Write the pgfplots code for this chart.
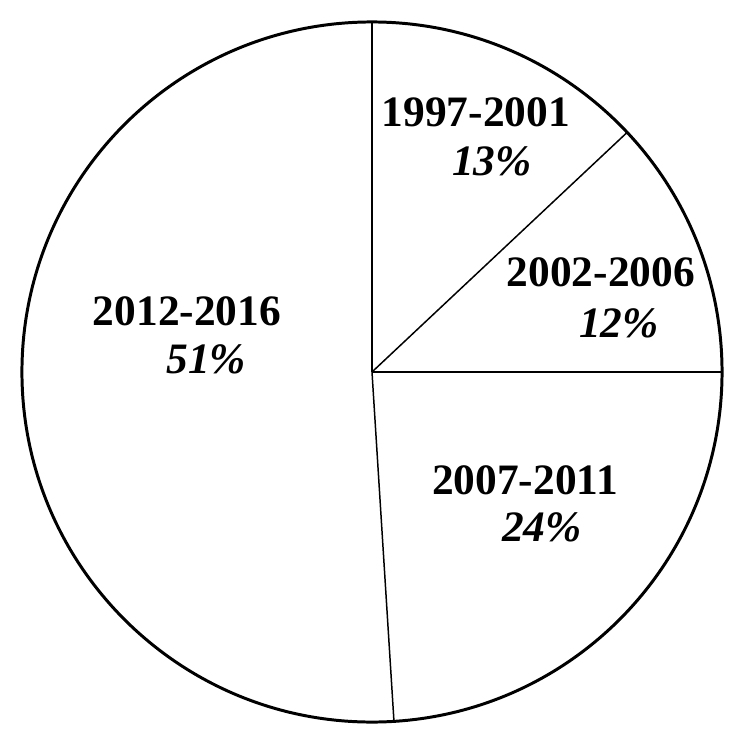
\documentclass[border=0pt]{standalone}
\usepackage{fontspec}
\setmainfont{Liberation Serif}
\usepackage{pgfplots}
\usepgfplotslibrary{polar}
\pgfplotsset{compat=1.18}

\begin{document}
\begin{tikzpicture}
\useasboundingbox[fill=white] (-150pt,-150pt) rectangle (150pt,150pt);
\begin{polaraxis}[
  at={(0,0)}, anchor=center,
  width=282.3pt, height=282.3pt,
  scale only axis,
  ymin=0, ymax=1,
  xtick=\empty, ytick=\empty,
  grid=none,
  separate axis lines,
  x axis line style={line width=1.2pt, black},
  y axis line style={draw=none},
  clip=false,
]
% slice boundaries (angle in degrees, clockwise from the top)
\addplot[black, line width=0.6pt, no marks] coordinates {(90,0) (90,1)};
\addplot[black, line width=0.6pt, no marks] coordinates {(43.2,0) (43.2,1)};
\addplot[black, line width=0.6pt, no marks] coordinates {(0,0) (0,1)};
\addplot[black, line width=0.6pt, no marks] coordinates {(-86.4,0) (-86.4,1)};
\end{polaraxis}
\begin{scope}[x=1pt, y=1pt, every node/.style={inner sep=0pt, font=\fontsize{17.5pt}{21pt}\selectfont}]
\node at (41.9,104.8) {\textbf{1997-2001}};
\node at (48.4,85.1) {\textbf{\textit{13\%}}};
\node at (92.3,40.3) {\textbf{2002-2006}};
\node at (99.6,19.8) {\textbf{\textit{12\%}}};
\node at (61.7,-43.5) {\textbf{2007-2011}};
\node at (68.5,-62.5) {\textbf{\textit{24\%}}};
\node at (-74.6,24.6) {\textbf{2012-2016}};
\node at (-66.9,5.2) {\textbf{\textit{51\%}}};
\end{scope}
\end{tikzpicture}
\end{document}
